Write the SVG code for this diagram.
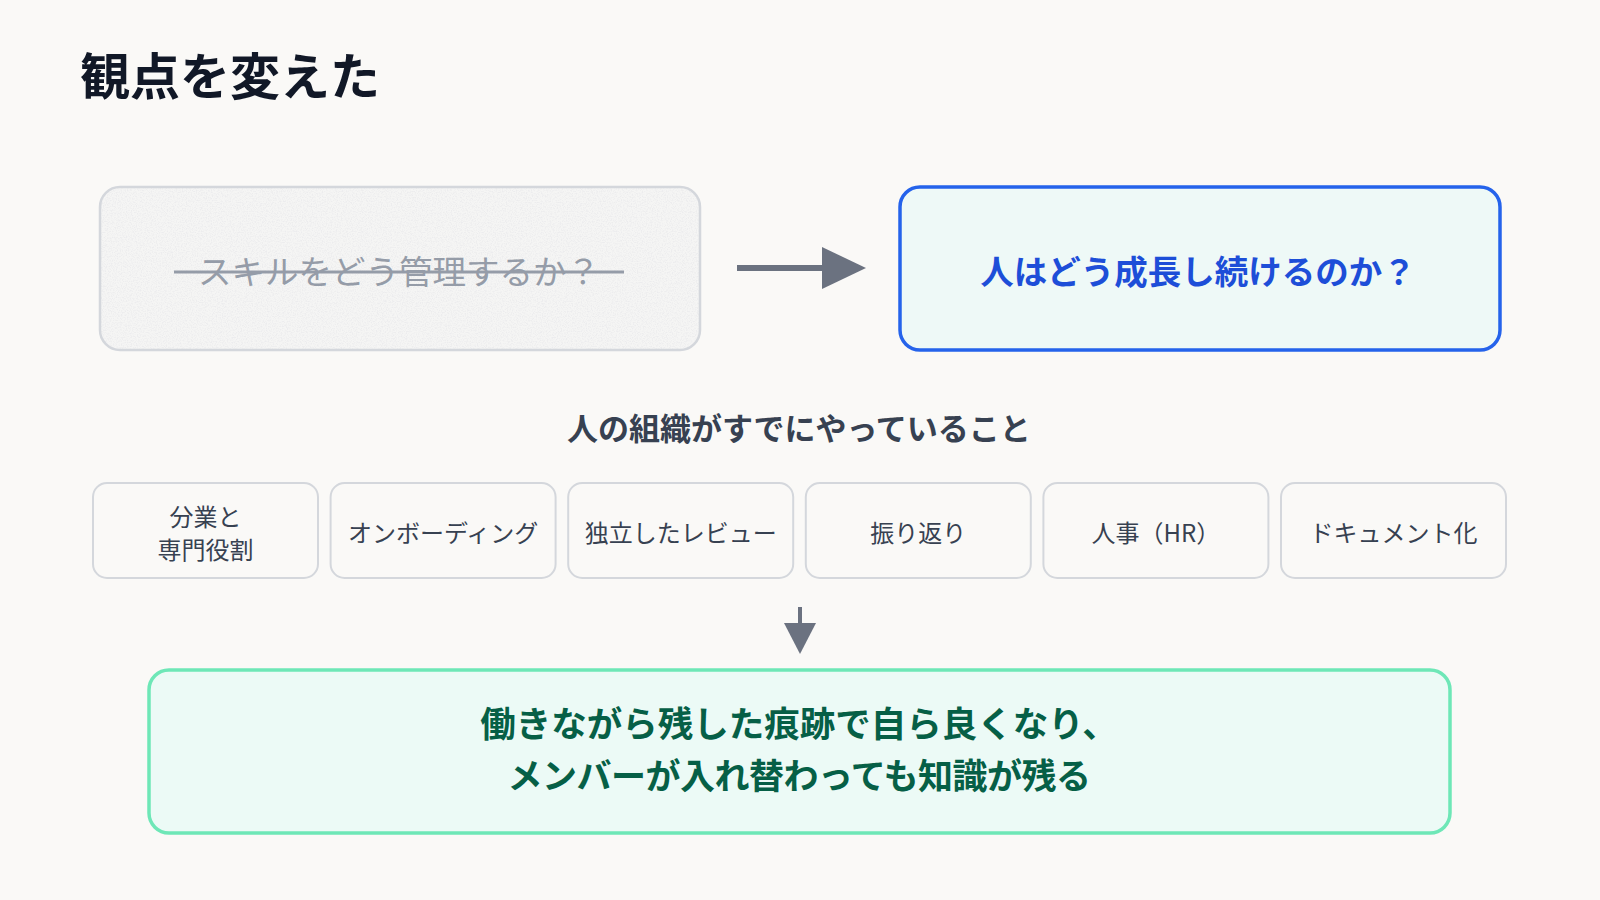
<svg xmlns="http://www.w3.org/2000/svg" width="1600" height="900" viewBox="0 0 1600 900">
<defs>
<style>
text{font-family:"Noto Sans CJK JP","Noto Sans",sans-serif;}
.title{font-size:50px;font-weight:700;fill:#111827;}
.sub{font-size:31px;font-weight:700;fill:#374151;text-anchor:middle;}
.item rect{fill:#faf9f7;stroke:#d4d7dc;stroke-width:2;}
.item text{font-size:24px;fill:#374151;text-anchor:middle;}
.conn{stroke:#6b7280;fill:#6b7280;}
</style>
<filter id="noise" x="0" y="0" width="100%" height="100%">
<feTurbulence type="fractalNoise" baseFrequency="0.8" numOctaves="2" seed="3" result="n"/>
<feColorMatrix in="n" type="matrix" values="0 0 0 0 0.84  0 0 0 0 0.84  0 0 0 0 0.85  0 0 0 -3 1.75" result="g"/>
<feComposite in="g" in2="SourceGraphic" operator="in"/>
</filter>
</defs>
<rect width="1600" height="900" fill="#faf9f7"/>
<text class="title" x="80" y="95">観点を変えた</text>

<g id="old-question">
<rect x="100" y="187" width="600" height="163" rx="20" fill="#f5f5f4"/>
<rect x="100" y="187" width="600" height="163" rx="20" fill="#f5f5f4" filter="url(#noise)"/>
<rect x="100" y="187" width="600" height="163" rx="20" fill="none" stroke="#d4d7dc" stroke-width="2.5"/>
<text x="399" y="284" font-size="33.5" fill="#959ca8" text-anchor="middle">スキルをどう管理するか？</text>
<line x1="174" y1="272" x2="624" y2="272" stroke="#959ca8" stroke-width="3"/>
</g>

<g id="new-question">
<rect x="900" y="187" width="600" height="163" rx="20" fill="#eef9f7" stroke="#2563eb" stroke-width="3.5"/>
<text x="1198" y="284" font-size="33.5" font-weight="700" fill="#1d4ed8" text-anchor="middle">人はどう成長し続けるのか？</text>
</g>

<text class="sub" x="799" y="440">人の組織がすでにやっていること</text>

<g id="item-1" class="item"><rect x="93" y="483" width="225" height="95" rx="14"/><text x="205.5" y="526">分業と</text><text x="205.5" y="559">専門役割</text></g>
<g id="item-2" class="item"><rect x="330.6" y="483" width="225" height="95" rx="14"/><text x="443.1" y="542">オンボーディング</text></g>
<g id="item-3" class="item"><rect x="568.2" y="483" width="225" height="95" rx="14"/><text x="680.7" y="542">独立したレビュー</text></g>
<g id="item-4" class="item"><rect x="805.8" y="483" width="225" height="95" rx="14"/><text x="918.3" y="542">振り返り</text></g>
<g id="item-5" class="item"><rect x="1043.4" y="483" width="225" height="95" rx="14"/><text x="1155.9" y="542">人事（HR）</text></g>
<g id="item-6" class="item"><rect x="1281" y="483" width="225" height="95" rx="14"/><text x="1393.5" y="542">ドキュメント化</text></g>

<g id="conclusion">
<rect x="149" y="670" width="1301" height="163" rx="20" fill="#ecfaf6" stroke="#6ee7b7" stroke-width="3.5"/>
<text x="799" y="737" font-size="35.5" font-weight="700" fill="#065f46" text-anchor="middle">働きながら残した痕跡で自ら良くなり、</text>
<text x="799" y="789" font-size="35" font-weight="700" fill="#065f46" text-anchor="middle" letter-spacing="-0.5">メンバーが入れ替わっても知識が残る</text>
</g>

<g id="connectors" class="conn">
<line x1="737" y1="268" x2="824" y2="268" stroke-width="6"/>
<polygon points="822,247 866,268 822,289" stroke="none"/>
<line x1="800" y1="607" x2="800" y2="625" stroke-width="4"/>
<polygon points="784,623 816,623 800,654" stroke="none"/>
</g>
</svg>
